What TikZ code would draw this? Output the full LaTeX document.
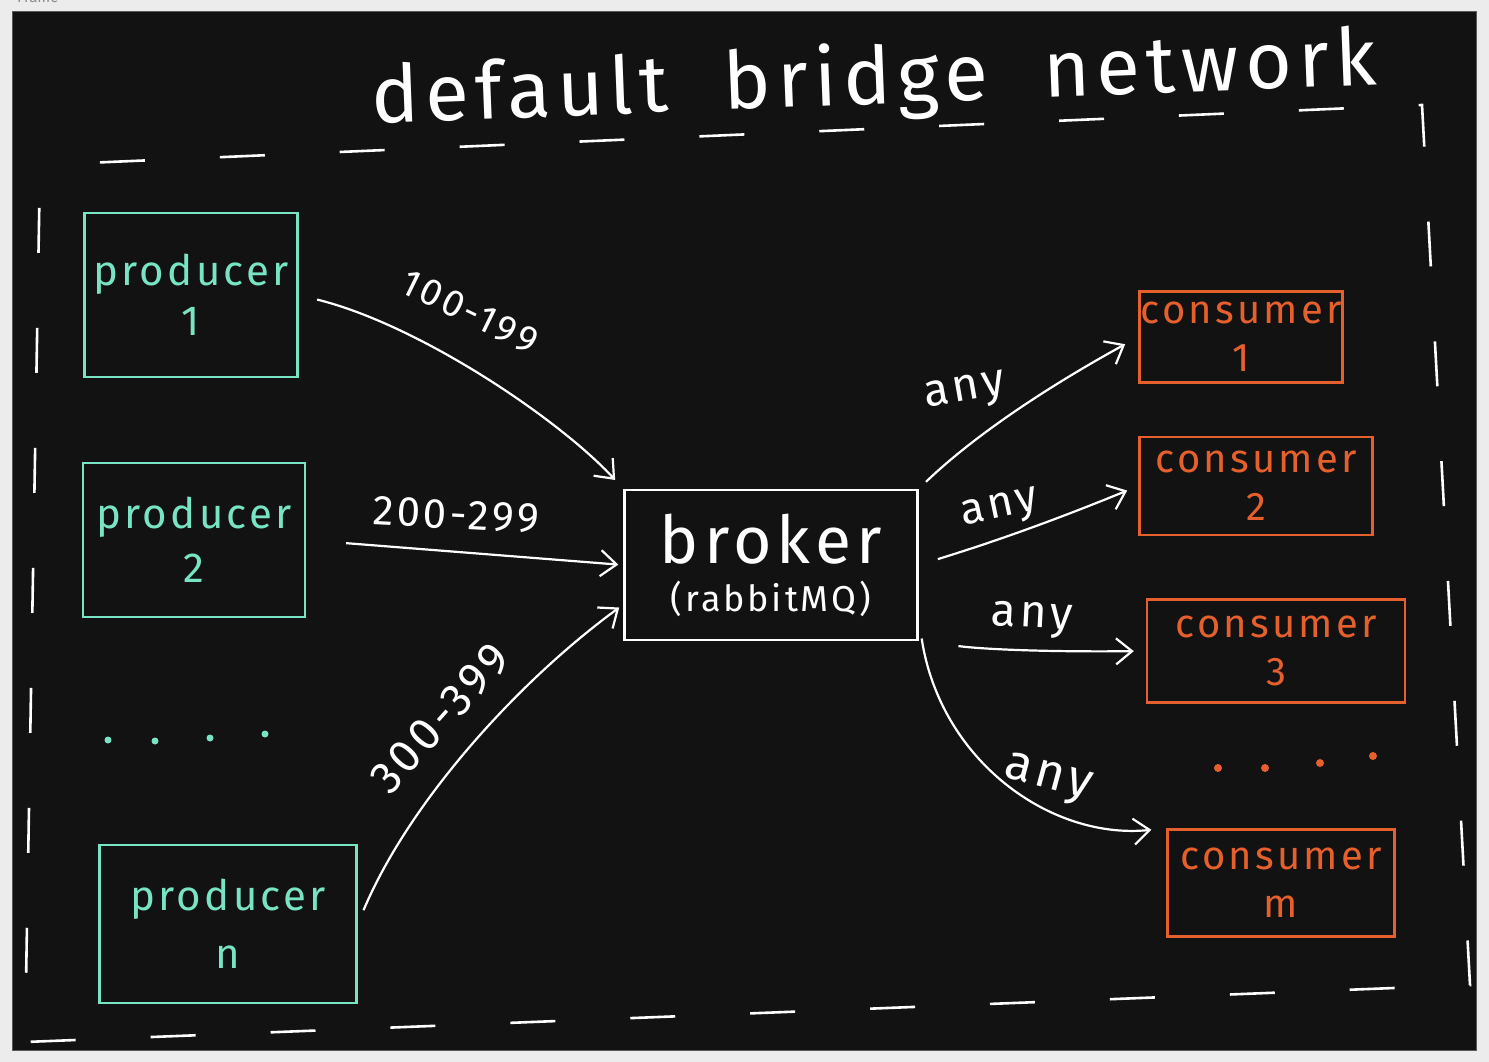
\documentclass[tikz,border=0pt]{standalone}
\usepackage{fontspec}
\setmainfont{Fira Sans}
\newfontfamily\sketchfont[LetterSpace=8]{Fira Sans}
\usetikzlibrary{arrows.meta}
\definecolor{outside}{HTML}{ECECEC}
\definecolor{board}{HTML}{121212}
\definecolor{mint}{HTML}{78E4C4}
\definecolor{rust}{HTML}{E5602C}
\newcommand*\hand[1]{\fontsize{#1}{1.2\dimexpr#1pt\relax}\sketchfont}

\begin{document}
\begin{tikzpicture}[x=1pt,y=-1pt,
		every node/.style={inner sep=0pt},
		prodbox/.style={draw=mint,text=mint,line width=2.4pt,align=center,font=\hand{42}},
		consbox/.style={draw=rust,text=rust,line width=2.4pt,align=center,font=\hand{40}},
		arr/.style={draw=white,line width=2.2pt,-{Straight Barb[length=16pt,width=26pt]}},
		lbl/.style={text=white,font=\hand{38}},
		netborder/.style={draw=white,line width=2.6pt,dash pattern=on 45pt off 75pt,dash phase=-60pt}]
	% frame
	\useasboundingbox[fill=outside] (0,0) rectangle (1489,1062);
	\draw[fill=board,draw=black!65,line width=1pt] (12,12) rectangle (1476,1050);
	\node[anchor=base west,text=black!45,font=\fontsize{15}{18}\selectfont] (framelbl) at (17,3) {Frame};
	% network border
	\path[netborder] (40,165) -- (1422,105) -- (1470,985) -- (25,1042) -- cycle;
	\node[anchor=base,rotate=2.2,text=white,font=\hand{80}] (title) at (875,104) {default\hspace{55pt}bridge\hspace{55pt}network};
	% producers
	\node[prodbox,minimum width=213pt,minimum height=164pt] (p1) at (191,295) {producer\\1};
	\node[prodbox,minimum width=222pt,minimum height=154pt] (p2) at (194,540) {producer\\[4pt]2};
	\node[prodbox,minimum width=257pt,minimum height=158pt] (pn) at (228,924) {producer\\[8pt]n};
	\foreach \x/\y in {108/740,155/741,210/738,265/734}
		\fill[mint] (\x,\y) circle (3.5pt);
	% broker
	\node[draw=white,text=white,line width=2.4pt,minimum width=293pt,minimum height=150pt,align=center] (broker) at (771,565)
		{{\hand{66}broker}\\[16pt]{\hand{36}(rabbitMQ)}};
	% consumers
	\node[consbox,minimum width=203pt,minimum height=91pt] (c1) at (1241,337) {consumer\\1};
	\node[consbox,minimum width=233pt,minimum height=98pt] (c2) at (1256,486) {consumer\\2};
	\node[consbox,minimum width=258pt,minimum height=103pt] (c3) at (1276,651) {consumer\\3};
	\node[consbox,minimum width=227pt,minimum height=107pt] (cm) at (1281,883) {consumer\\m};
	\foreach \x/\y in {1218/768,1265/768,1320/763,1373/756}
		\fill[rust] (\x,\y) circle (4pt);
	% routing keys
	\draw[arr,shorten <=19pt,shorten >=12pt] (p1.east) .. controls (420,325) and (560,420) .. (broker.north west);
	\draw[arr,shorten <=40pt,shorten >=5pt] (p2.east) -- (broker.west);
	\draw[arr,shorten <=15pt,shorten >=5pt] (pn.east) .. controls (410,800) and (520,680) .. (broker.195);
	\node[lbl,rotate=-26] (k1) at (470,312) {100-199};
	\node[lbl,rotate=-3,font=\hand{42}] (k2) at (456,515) {200-299};
	\node[lbl,rotate=48,font=\hand{46}] (k3) at (440,718) {300-399};
	% bindings
	\draw[arr,shorten <=10pt,shorten >=15pt] (broker.north east) .. controls (980,430) and (1060,380) .. (c1.west);
	\draw[arr,shorten <=20pt,shorten >=12pt] (broker.east) .. controls (1000,540) and (1060,518) .. (c2.west);
	\draw[arr,shorten <=40pt,shorten >=12pt] (broker.south east) .. controls (990,650) and (1060,652) .. (c3.west);
	\draw[arr,shorten <=20pt,shorten >=15pt] (broker.-20) .. controls (940,760) and (1050,840) .. (cm.north west);
	\node[lbl,rotate=10,font=\hand{46}] (b1) at (965,393) {any};
	\node[lbl,rotate=12,font=\hand{44}] (b2) at (1000,510) {any};
	\node[lbl,rotate=-3,font=\hand{46}] (b3) at (1032,620) {any};
	\node[lbl,rotate=-15,font=\hand{50}] (bm) at (1047,780) {any};
\end{tikzpicture}
\end{document}
